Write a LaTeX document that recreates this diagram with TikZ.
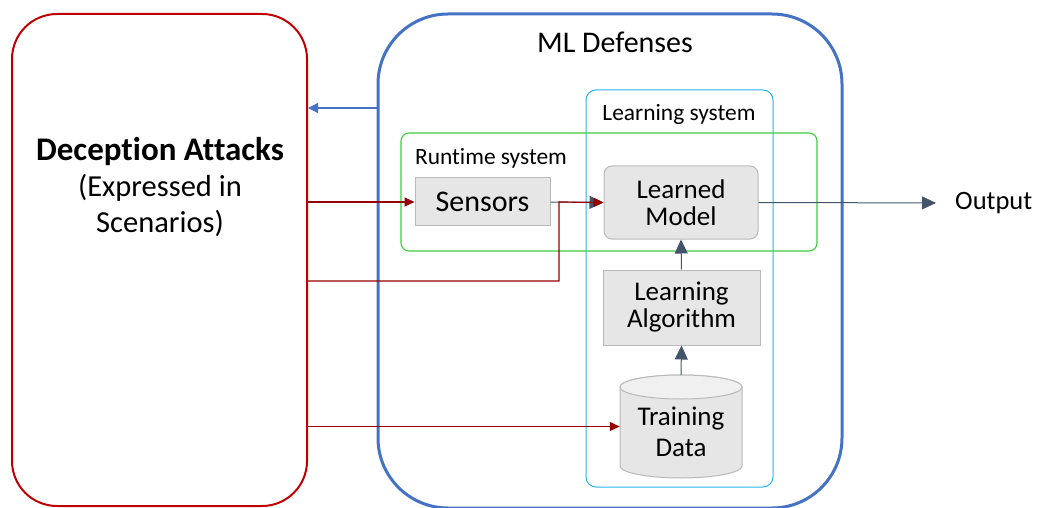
\documentclass[tikz,border=0pt]{standalone}
\usepackage{fontspec}
\setmainfont{Carlito}[Ligatures=NoCommon]
\usetikzlibrary{arrows.meta,calc}
\definecolor{redbox}{RGB}{192,0,0}
\definecolor{redln}{RGB}{150,0,0}
\definecolor{bluebox}{RGB}{68,114,196}
\definecolor{cyanbox}{RGB}{40,180,235}
\definecolor{greenbox}{RGB}{60,205,60}
\definecolor{grayfill}{RGB}{230,230,230}
\definecolor{grayline}{RGB}{185,185,185}
\definecolor{slate}{RGB}{68,84,106}
\tikzset{
  graybox/.style={draw=grayline, fill=grayfill, line width=1pt, align=center, font=\fontsize{27}{28}\selectfont},
  darkarrow/.style={draw=slate, line width=1pt, -{Triangle[length=14pt,width=13pt]}},
  redarrow/.style={draw=redln, line width=1.2pt, -{Triangle[length=10pt,width=9pt]}},
  bluearrow/.style={draw=bluebox, line width=1.2pt, -{Triangle[length=10pt,width=10pt]}},
  lbl/.style={inner sep=0pt}
}
\begin{document}
\begin{tikzpicture}[x=1pt,y=-1pt]
\useasboundingbox (0,0) rectangle (1037,508);
% big boxes
\node[draw=redbox, line width=2pt, rounded corners=45pt, minimum width=295pt, minimum height=492pt] (red) at (159.5,260) {};
\node[draw=bluebox, line width=3pt, rounded corners=70pt, minimum width=464pt, minimum height=494pt] (blue) at (610,261) {};
\node[draw=cyanbox, line width=1pt, rounded corners=10pt, minimum width=187pt, minimum height=397pt] (learnsys) at (679.5,288.5) {};
\node[draw=greenbox, line width=1.1pt, rounded corners=8pt, minimum width=416pt, minimum height=118pt] (runsys) at (609,192) {};
% labels
\node[lbl, font=\fontsize{30}{32}\selectfont] (mltitle) at (615,42) {ML Defenses};
\node[lbl, font=\fontsize{23.4}{25}\selectfont] (lstitle) at (679,114) {Learning system};
\node[lbl, font=\fontsize{23.4}{25}\selectfont] (rstitle) at (491,158) {Runtime system};
\node[lbl, align=center, font=\fontsize{30.5}{36}\selectfont] (dtitle) at (160,187) {{\fontsize{33}{36}\selectfont\textbf{Deception Attacks}}\\(Expressed in\\Scenarios)};
% inner boxes
\node[graybox, font=\fontsize{30}{32}\selectfont, minimum width=135pt, minimum height=48pt] (sens) at (482.5,202) {Sensors};
\node[graybox, rounded corners=8pt, minimum width=154pt, minimum height=73pt] (lm) at (681,202.5) {Learned\\[-1pt]Model};
\node[graybox, minimum width=157pt, minimum height=75pt] (la) at (681.5,307.5) {Learning\\[-1pt]Algorithm};
% cylinder
\draw[draw=grayline, fill=grayfill, line width=1pt] (620,387) -- (620,466) arc[start angle=180,end angle=0,x radius=61,y radius=12] -- (742,387) arc[start angle=0,end angle=-180,x radius=61,y radius=12] -- cycle;
\draw[draw=grayline, fill=grayfill!60!white, line width=1pt] (681,387) ellipse[x radius=61,y radius=12];
\node[align=center, inner sep=0pt, minimum width=122pt, minimum height=103pt, font=\fontsize{27}{31}\selectfont] (td) at (681,426.5) {\\[-2pt]Training\\Data};
\node[lbl, font=\fontsize{26.5}{28}\selectfont, anchor=west] (outtxt) at (955,203) {Output};
% coordinates
\coordinate (rr) at (0,281);
\coordinate (cc) at (559,202);
\coordinate (bb) at (0,108);
% connectors
\draw[darkarrow] (sens.east) -- (lm.west);
\draw[darkarrow] (la.north) -- (lm.south);
\draw[darkarrow] (td.north) -- (la.south);
\draw[darkarrow, shorten >=19pt] (lm.east) -- (outtxt.west);
\draw[redarrow] (red.east |- sens.west) -- (sens.west);
\draw[redarrow] (red.east |- rr) -| (cc) -- (lm.west);
\draw[redarrow] (red.east |- td.west) -- (td.west);
\draw[bluearrow] (blue.west |- bb) -- (red.east |- bb);
\end{tikzpicture}
\end{document}
